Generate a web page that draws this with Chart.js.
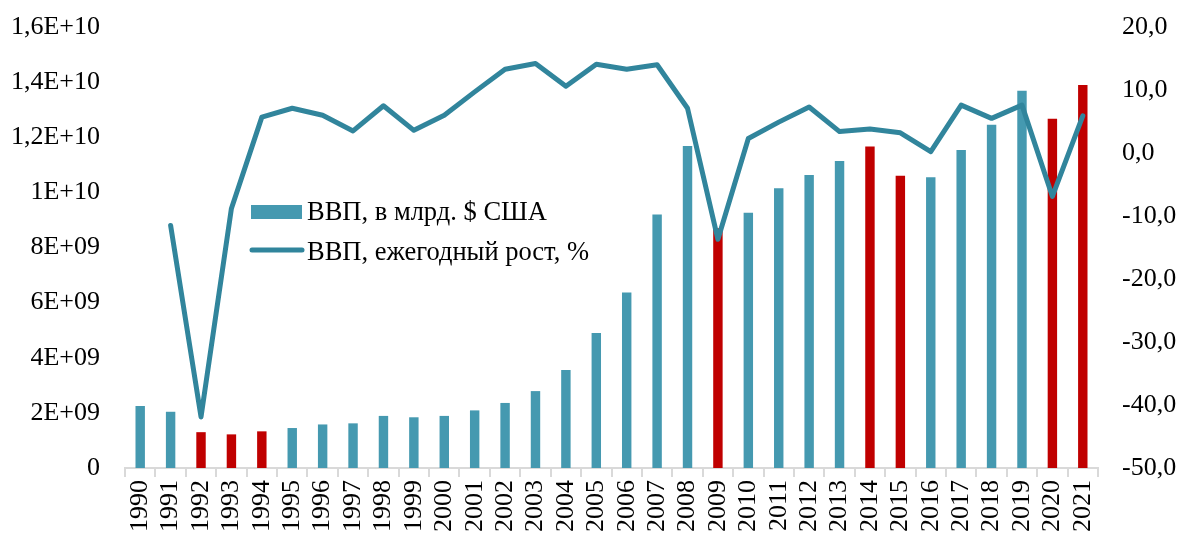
<!DOCTYPE html>
<html>
<head>
<meta charset="utf-8">
<script src="https://cdn.jsdelivr.net/npm/chart.js@4.4.1/dist/chart.umd.min.js"></script>
<style>
    html, body { margin: 0; padding: 0; background: #fff; }
    #wrap { width: 1180px; height: 536px; }
</style>
</head>
<body>
<div id="wrap"><canvas id="gdpChart" width="1180" height="536"></canvas></div>
<script>
// Годы
const years = ['1990','1991','1992','1993','1994','1995','1996','1997','1998','1999','2000',
    '2001','2002','2003','2004','2005','2006','2007','2008','2009','2010','2011','2012',
    '2013','2014','2015','2016','2017','2018','2019','2020','2021'];

// ВВП, долл. США
const gdpValues = [2.25e9, 2.04e9, 1.30e9, 1.22e9, 1.33e9, 1.45e9, 1.58e9, 1.62e9, 1.89e9, 1.84e9, 1.89e9,
    2.09e9, 2.36e9, 2.79e9, 3.56e9, 4.90e9, 6.37e9, 9.20e9, 11.68e9, 8.70e9, 9.26e9, 10.15e9, 10.63e9,
    11.14e9, 11.66e9, 10.60e9, 10.55e9, 11.54e9, 12.45e9, 13.69e9, 12.67e9, 13.90e9];

// ВВП, ежегодный рост, %
const growthValues = [null, -11.5, -41.9, -8.8, 5.7, 7.1, 6.0, 3.5, 7.5, 3.6, 6.0,
    9.7, 13.3, 14.2, 10.6, 14.1, 13.3, 14.0, 7.1, -13.7, 2.3, 4.9, 7.3,
    3.4, 3.8, 3.2, 0.2, 7.6, 5.5, 7.6, -6.9, 5.9];

// годы спада (красные столбики)
const redYears = ['1992','1993','1994','2009','2014','2015','2020','2021'];

const leftTickLabels = ['0','2E+09','4E+09','6E+09','8E+09','1E+10','1,2E+10','1,4E+10','1,6E+10'];

const seriesNames = ['ВВП, в млрд. $ США', 'ВВП, ежегодный рост, %'];

const BAR_COLOR = '#4599b0';
const RED_COLOR = '#c00000';
const LINE_COLOR = '#31859c';
const FONT = '"Liberation Serif", "Times New Roman", serif';

const barColors = years.map(y => redYears.includes(y) ? RED_COLOR : BAR_COLOR);

// Легенда внутри области графика
const innerLegend = {
    id: 'innerLegend',
    afterDraw(chart) {
        const ctx = chart.ctx;
        ctx.save();
        ctx.font = '26.5px ' + FONT;
        ctx.textBaseline = 'middle';

        ctx.fillStyle = BAR_COLOR;
        ctx.fillRect(251, 205, 51, 14);
        ctx.fillStyle = '#000';
        ctx.fillText(chart.data.datasets[1].label, 307, 213);

        ctx.strokeStyle = LINE_COLOR;
        ctx.lineWidth = 5;
        ctx.lineCap = 'round';
        ctx.beginPath();
        ctx.moveTo(252, 250);
        ctx.lineTo(302, 250);
        ctx.stroke();
        ctx.fillText(chart.data.datasets[0].label, 307, 253);
        ctx.restore();
    }
};

const ctx = document.getElementById('gdpChart').getContext('2d');
new Chart(ctx, {
    data: {
        labels: years,
        datasets: [{
            type: 'line',
            label: seriesNames[1],
            data: growthValues,
            yAxisID: 'yRight',
            borderColor: LINE_COLOR,
            borderWidth: 5,
            pointRadius: 0,
            tension: 0,
            borderJoinStyle: 'round',
            borderCapStyle: 'round',
            order: 0
        }, {
            type: 'bar',
            label: seriesNames[0],
            data: gdpValues,
            yAxisID: 'yLeft',
            backgroundColor: barColors,
            categoryPercentage: 1,
            barPercentage: 0.31,
            order: 1
        }]
    },
    options: {
        responsive: false,
        animation: false,
        layout: { padding: { top: 27, left: 0, right: 0, bottom: 0 } },
        plugins: {
            legend: { display: false },
            tooltip: { enabled: false }
        },
        scales: {
            x: {
                grid: {
                    display: true,
                    drawOnChartArea: false,
                    offset: true,
                    color: '#d9d9d9',
                    tickLength: 9,
                    lineWidth: 2
                },
                border: { display: true, color: '#d9d9d9', width: 2 },
                ticks: {
                    color: '#000',
                    font: { family: FONT, size: 26 },
                    maxRotation: 90,
                    minRotation: 90,
                    autoSkip: false,
                    padding: 3
                },
                afterFit(scale) { scale.height = 68; }
            },
            yLeft: {
                position: 'left',
                min: 0,
                max: 1.6e10,
                // отступ подписей через длину (невидимых) засечек
                grid: { display: false, drawTicks: true, tickLength: 25 },
                border: { display: false },
                ticks: {
                    stepSize: 2e9,
                    color: '#000',
                    font: { family: FONT, size: 26 },
                    padding: 0,
                    callback: (v, i) => leftTickLabels[i]
                },
                afterFit(scale) { scale.width = 125; }
            },
            yRight: {
                position: 'right',
                min: -50,
                max: 20,
                grid: { display: false, drawTicks: true, tickLength: 24 },
                border: { display: false },
                ticks: {
                    stepSize: 10,
                    color: '#000',
                    font: { family: FONT, size: 26 },
                    padding: 0,
                    callback: v => v.toFixed(1).replace('.', ',')
                },
                afterFit(scale) { scale.width = 82; }
            }
        }
    },
    plugins: [innerLegend]
});
</script>
</body>
</html>
